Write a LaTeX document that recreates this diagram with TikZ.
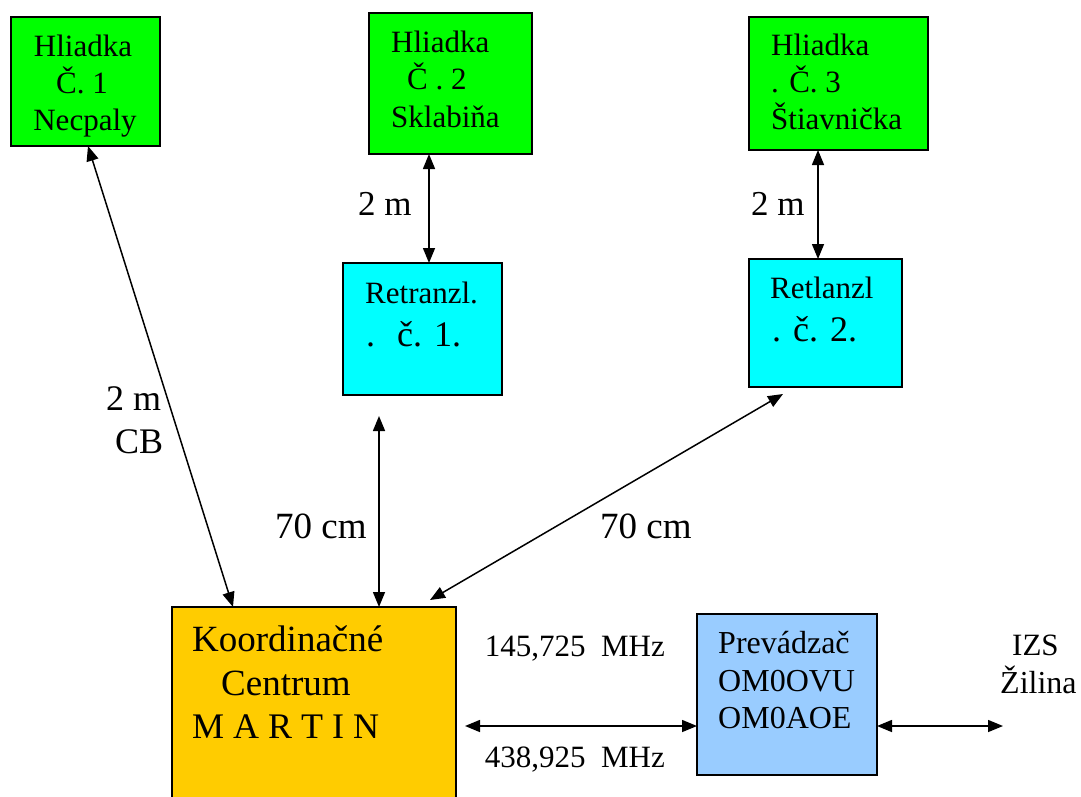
\documentclass[tikz,border=0pt]{standalone}
\usepackage{fontspec}
\setmainfont{Liberation Serif}
\usetikzlibrary{arrows.meta,calc}
\definecolor{hgreen}{HTML}{00FF00}
\definecolor{rcyan}{HTML}{00FFFF}
\definecolor{korange}{HTML}{FFCC00}
\definecolor{pblue}{HTML}{99CCFF}
\begin{document}
\begin{tikzpicture}[x=1pt,y=-1pt,
  box/.style={draw=black,line width=1.6pt,inner sep=0pt,outer sep=0pt},
  txt/.style={inner sep=0pt,anchor=base west,font=\fontsize{31}{37}\selectfont},
  bigtxt/.style={txt,font=\fontsize{36}{42}\selectfont},
  biarrow/.style={{Triangle[length=15pt,width=12pt]}-{Triangle[length=15pt,width=12pt]},line width=1.5pt}]
\useasboundingbox (0,0) rectangle (1081,797);
\clip (0,0) rectangle (1081,797);
\fill[white] (0,0) rectangle (1081,797);

% boxes
\node[box,fill=hgreen,minimum width=149pt,minimum height=129pt] (h1) at (85.5,81.5) {};
\node[box,fill=hgreen,minimum width=163pt,minimum height=141pt] (h2) at (450.5,83.5) {};
\node[box,fill=hgreen,minimum width=179pt,minimum height=133pt] (h3) at (838.5,83.5) {};
\node[box,fill=rcyan,minimum width=159pt,minimum height=132pt] (r1) at (422.5,329) {};
\node[box,fill=rcyan,minimum width=153pt,minimum height=128pt] (r2) at (825.5,323) {};
\node[box,fill=korange,minimum width=284pt,minimum height=223pt] (k) at (314,718.5) {};
\node[box,fill=pblue,minimum width=180pt,minimum height=161pt] (p) at (787,694.5) {};
\coordinate (izs) at (1003,726);

% box texts
\node[txt,anchor=base] (h1a) at (83,57) {Hliadka};
\node[txt,anchor=base] (h1b) at (82,94) {Č. 1};
\node[txt,anchor=base] (h1c) at (85,131) {Necpaly};

\node[txt] (h2a) at (391,53) {Hliadka};
\node[txt] (h2b) at (407,90) {Č . 2};
\node[txt] (h2c) at (391,128) {Sklabiňa};

\node[txt] (h3a) at (771,56) {Hliadka};
\node[txt] (h3b) at (771,93) {. Č. 3};
\node[txt] (h3c) at (771,130) {Štiavnička};

\node[txt] (r1a) at (365,303) {Retranzl.};
\node[bigtxt] (r1b) at (366,346) {.\hspace{22pt}č. 1.};

\node[txt] (r2a) at (770,298) {Retlanzl};
\node[bigtxt] (r2b) at (772,341) {. č. 2.};

\node[bigtxt,font=\fontsize{37}{42}\selectfont] (ka) at (192,651) {Koordinačné};
\node[bigtxt,font=\fontsize{37}{42}\selectfont] (kb) at (221,695) {Centrum};
\node[bigtxt] (kc) at (192,738) {M A R T I N};

\node[txt,font=\fontsize{32}{37}\selectfont] (pa) at (718,653) {Prevádzač};
\node[txt,font=\fontsize{32}{37}\selectfont] (pb) at (718,691) {OM0OVU};
\node[txt,font=\fontsize{32}{37}\selectfont] (pc) at (718,728) {OM0AOE};

% outside labels
\node[txt,anchor=base east] (f1) at (665,656) {145,725\ \ MHz};
\node[txt,anchor=base east] (f2) at (665,767) {438,925\ \ MHz};
\node[txt] (iz1) at (1012,655) {IZS};
\node[txt,font=\fontsize{32}{37}\selectfont] (iz2) at (1000,693) {Žilina};

\node[bigtxt,font=\fontsize{35}{40}\selectfont] (l2) at (358,215) {2 m};
\node[bigtxt,font=\fontsize{35}{40}\selectfont] (l3) at (751,215) {2 m};
\node[bigtxt] (l1a) at (106,410) {2 m};
\node[bigtxt] (l1b) at (115,453) {CB};
\node[bigtxt,font=\fontsize{37}{42}\selectfont] (l4) at (275,538) {70 cm};
\node[bigtxt,font=\fontsize{37}{42}\selectfont] (l5) at (600,538) {70 cm};

% connectors
\draw[biarrow] ([xshift=2.5pt]h1.south) -- ([xshift=61pt]k.north west);
\draw[biarrow] ([xshift=60pt]h2.south west) -- ([xshift=86pt]r1.north west);
\draw[biarrow] ([xshift=69pt]h3.south west) -- ([xshift=69pt]r2.north west);
\draw[biarrow] ([xshift=36pt,yshift=-21pt]r1.south west) -- ([xshift=207pt]k.north west);
\draw[biarrow] ([xshift=34pt,yshift=-7pt]r2.south west) -- ([xshift=258pt,yshift=7pt]k.north west);
\draw[biarrow] ([xshift=9pt,yshift=-7.5pt]k.east) -- ([yshift=-31.5pt]p.west);
\draw[biarrow] ([yshift=-31.5pt]p.east) -- (izs);
\end{tikzpicture}
\end{document}
